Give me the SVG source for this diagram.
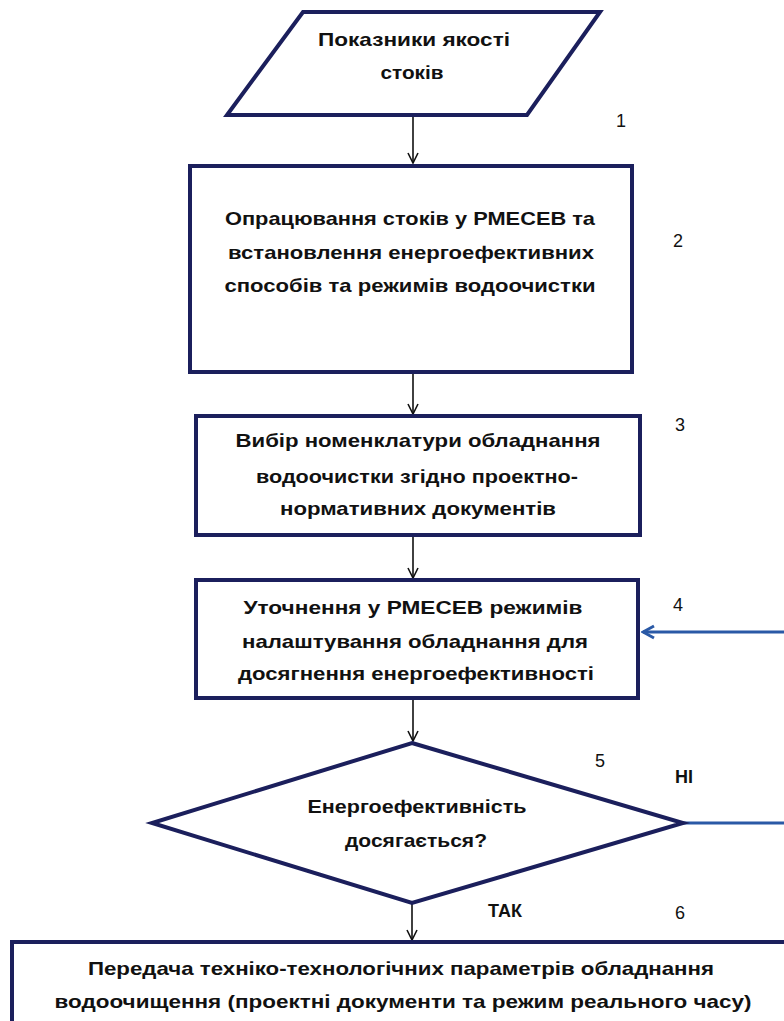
<svg xmlns="http://www.w3.org/2000/svg" width="784" height="1021" viewBox="0 0 784 1021">
<defs>
<style>
.shape{fill:#fff;stroke:#1b1f5c;stroke-width:4;stroke-linejoin:miter}
.t{font-family:"Liberation Sans",Arial,sans-serif;font-weight:bold;font-size:19px;fill:#111;text-anchor:middle}
.n{font-family:"Liberation Sans",Arial,sans-serif;font-size:18px;fill:#111;text-anchor:middle}
.nb{font-family:"Liberation Sans",Arial,sans-serif;font-weight:bold;font-size:18px;fill:#111;text-anchor:middle}
.c{fill:none;stroke:#111;stroke-width:1.6}
.cb{fill:none;stroke:#2a59a6;stroke-width:3}
</style>
<marker id="ah" viewBox="0 0 12 12" refX="11" refY="6" markerWidth="12" markerHeight="12" markerUnits="userSpaceOnUse" orient="auto">
<path d="M1,1 L11,6 L1,11" fill="none" stroke="#111" stroke-width="1.6"/>
</marker>
<marker id="ahb" viewBox="0 0 16 16" refX="14" refY="8" markerWidth="16" markerHeight="16" markerUnits="userSpaceOnUse" orient="auto">
<path d="M3,2 L14,8 L3,14" fill="none" stroke="#2a59a6" stroke-width="3"/>
</marker>
</defs>
<rect width="784" height="1021" fill="#fff"/>

<g id="connectors">
<line class="c" x1="413" y1="115" x2="413" y2="163" marker-end="url(#ah)"/>
<line class="c" x1="413" y1="372" x2="413" y2="414" marker-end="url(#ah)"/>
<line class="c" x1="413" y1="535" x2="413" y2="578" marker-end="url(#ah)"/>
<line class="c" x1="413" y1="698" x2="413" y2="741" marker-end="url(#ah)"/>
<line class="c" x1="412" y1="903" x2="412" y2="940" marker-end="url(#ah)"/>
<line class="cb" x1="683" y1="823" x2="784" y2="823"/>
<line class="cb" x1="784" y1="632" x2="643" y2="632" marker-end="url(#ahb)"/>
</g>

<g id="node1">
<polygon class="shape" points="303,12 600,12 527,115 227,115"/>
<text class="t" x="414" y="46" textLength="192" lengthAdjust="spacingAndGlyphs">Показники якості</text>
<text class="t" x="412" y="79" textLength="63" lengthAdjust="spacingAndGlyphs">стоків</text>
</g>

<g id="node2">
<rect class="shape" x="190" y="166" width="442" height="206"/>
<text class="t" x="410" y="225" textLength="370" lengthAdjust="spacingAndGlyphs">Опрацювання стоків у РМЕСЕВ та</text>
<text class="t" x="411" y="259" textLength="366" lengthAdjust="spacingAndGlyphs">встановлення енергоефективних</text>
<text class="t" x="410" y="292" textLength="371" lengthAdjust="spacingAndGlyphs">способів та режимів водоочистки</text>
</g>

<g id="node3">
<rect class="shape" x="196" y="416" width="444" height="119"/>
<text class="t" x="418" y="447" textLength="365" lengthAdjust="spacingAndGlyphs">Вибір номенклатури обладнання</text>
<text class="t" x="417" y="483" textLength="322" lengthAdjust="spacingAndGlyphs">водоочистки згідно проектно-</text>
<text class="t" x="418" y="515" textLength="276" lengthAdjust="spacingAndGlyphs">нормативних документів</text>
</g>

<g id="node4">
<rect class="shape" x="196" y="580" width="442" height="118"/>
<text class="t" x="413" y="614" textLength="339" lengthAdjust="spacingAndGlyphs">Уточнення у РМЕСЕВ режимів</text>
<text class="t" x="415" y="648" textLength="346" lengthAdjust="spacingAndGlyphs">налаштування обладнання для</text>
<text class="t" x="416" y="680" textLength="356" lengthAdjust="spacingAndGlyphs">досягнення енергоефективності</text>
</g>

<g id="node5">
<polygon class="shape" points="412,743 683,823 412,903 152,823"/>
<text class="t" x="417" y="813" textLength="219" lengthAdjust="spacingAndGlyphs">Енергоефективність</text>
<text class="t" x="416" y="847" textLength="142" lengthAdjust="spacingAndGlyphs">досягається?</text>
</g>

<g id="node6">
<rect class="shape" x="12" y="942" width="790" height="100"/>
<text class="t" x="401" y="975" textLength="626" lengthAdjust="spacingAndGlyphs">Передача техніко-технологічних параметрів обладнання</text>
<text class="t" x="403" y="1008" textLength="697" lengthAdjust="spacingAndGlyphs">водоочищення (проектні документи та режим реального часу)</text>
</g>

<g id="labels">
<text class="n" x="621" y="127">1</text>
<text class="n" x="678" y="247">2</text>
<text class="n" x="680" y="431">3</text>
<text class="n" x="678" y="611">4</text>
<text class="n" x="600" y="767">5</text>
<text class="nb" x="684" y="783">НІ</text>
<text class="nb" x="505" y="917">ТАК</text>
<text class="n" x="680" y="919">6</text>
</g>
</svg>
